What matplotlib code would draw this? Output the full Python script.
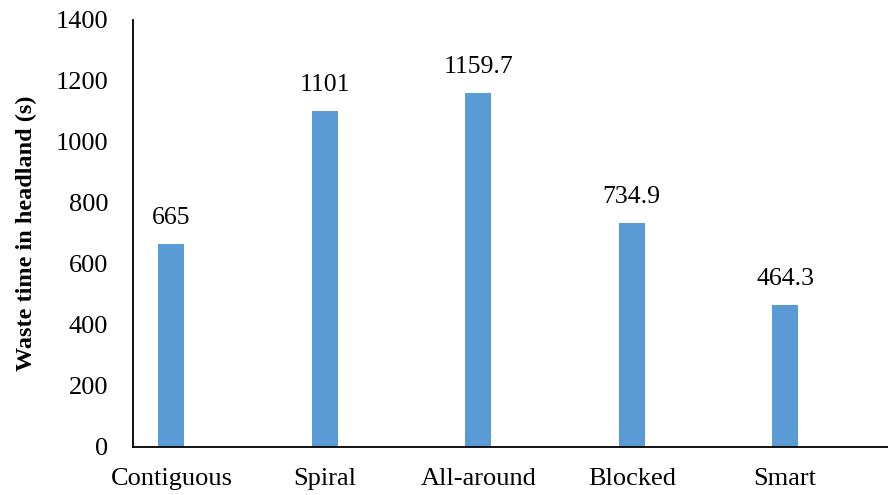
import numpy as np
import matplotlib.pyplot as plt

categories = ["Contiguous", "Spiral", "All-around", "Blocked", "Smart"]
waste_time = [665, 1101, 1159.7, 734.9, 464.3]
value_labels = ["665", "1101", "1159.7", "734.9", "464.3"]

plt.rcParams['font.family'] = ['Liberation Serif', 'DejaVu Serif']

fig = plt.figure(figsize=(8.88, 4.95), dpi=100)
ax = fig.add_axes([0.1498, 0.097, 0.8502, 0.8626])

x = np.arange(len(categories))
bars = ax.bar(x, waste_time, width=0.17, color='#5B9BD5')

for b, lab in zip(bars, value_labels):
    ax.annotate(lab, (b.get_x() + b.get_width() / 2, b.get_height()),
                xytext=(0, 11), textcoords='offset points',
                ha='center', va='bottom', fontsize=18.5)

ax.set_xlim(-0.25, 4.67)
ax.set_ylim(0, 1400)
ax.set_yticks(range(0, 1401, 200))
ax.set_xticks(x)
ax.set_xticklabels(categories)
ax.tick_params(axis='both', length=0, labelsize=19)
ax.tick_params(axis='y', pad=18)
ax.tick_params(axis='x', pad=15)
ax.set_ylabel("Waste time in headland (s)", fontsize=17.5, fontweight='bold', labelpad=13)

for s in ['top', 'right']:
    ax.spines[s].set_visible(False)
for s in ['left', 'bottom']:
    ax.spines[s].set_linewidth(1.3)
    ax.spines[s].set_color('black')

fig.savefig("out.png", dpi=100)
